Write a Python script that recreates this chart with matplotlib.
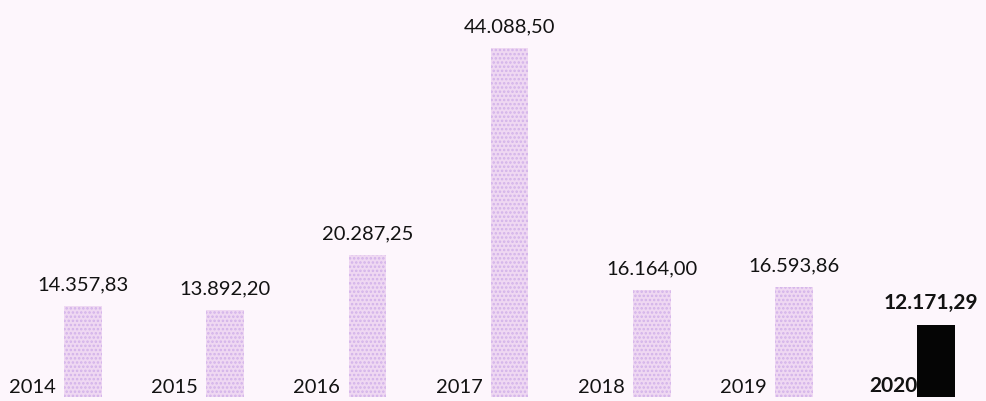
import matplotlib.pyplot as plt
import numpy as np

years = ["2014", "2015", "2016", "2017", "2018", "2019", "2020"]
values = [14357.83, 13892.20, 20287.25, 44088.50, 16164.00, 16593.86, 12171.29]
value_labels = ["14.357,83", "13.892,20", "20.287,25", "44.088,50",
                "16.164,00", "16.593,86", "12.171,29"]

BG = "#fdf6fc"
BAR = "#efd8f2"
DOTS = "#d2b2ea"
INK = "#121212"

plt.rcParams["font.family"] = ["Lato", "DejaVu Sans"]
plt.rcParams["hatch.linewidth"] = 1.2

fig = plt.figure(figsize=(9.87, 4.01), dpi=100, facecolor=BG)
ax = fig.add_axes([0, 4 / 401, 1, 397 / 401])
ax.set_facecolor(BG)

x = np.arange(len(years))
width = 0.265
for i, (v, lab) in enumerate(zip(values, value_labels)):
    last = i == len(years) - 1
    if last:
        ax.bar(x[i], v, width=width, color="#050505", linewidth=0)
    else:
        ax.bar(x[i], v, width=width, color=BAR, edgecolor=DOTS,
               hatch="....", linewidth=0)
    weight = "bold" if last else "normal"
    size = 15 if last else 14.5
    dx = -0.04 if last else 0
    ax.annotate(lab, (x[i] + dx, v), xytext=(0, 9), textcoords="offset points",
                ha="center", va="bottom", fontsize=size, color=INK,
                fontweight=weight)
    ax.annotate(years[i], (x[i] - width / 2, 3876), xytext=(-6 if not last else 0, 1),
                textcoords="offset points", ha="right", va="bottom",
                fontsize=size, color=INK, fontweight=weight)

ax.set_xlim(-0.584, 6.357)
ax.set_ylim(3876, 3876 + 397 * 115.2)
ax.axis("off")

fig.savefig("out.png", dpi=100, facecolor=BG)
